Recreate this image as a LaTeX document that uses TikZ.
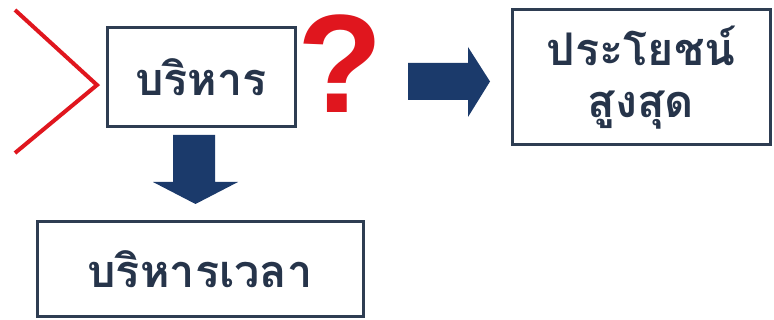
\documentclass[tikz,border=0pt]{standalone}
\usepackage{fontspec}
\newfontfamily\thaifont[Script=Thai]{Loma}
\setmainfont{Liberation Sans}
\definecolor{boxline}{HTML}{2E3D52}
\definecolor{thaitext}{HTML}{26344A}
\definecolor{navy}{HTML}{1B3A6B}
\definecolor{qred}{HTML}{E0161E}
\begin{document}
\begin{tikzpicture}[x=1pt,y=-1pt,
  box/.style={draw=boxline, line width=3pt, fill=white, inner sep=0pt, text=thaitext,
    font=\thaifont\bfseries\fontsize{45}{52}\selectfont, align=center},
  blockarrow/.style={fill=navy, draw=none}]
\useasboundingbox (0,0) rectangle (774,320);
\fill[white] (0,0) rectangle (774,320);
% boxes
\node[box, minimum width=188pt, minimum height=99pt] (manage) at (201,77.5) {บริหาร};
\node[box, minimum width=258pt, minimum height=135pt] (benefit) at (641,77.5) {ประโยชน์\\สูงสุด};
\node[box, minimum width=326pt, minimum height=95pt] (time) at (200,269.5) {บริหารเวลา};
% red chevron
\coordinate (chevtop) at (15,10);
\coordinate (chevbot) at (15,153);
\draw[qred, line width=4pt, line join=miter] (chevtop) -- (97,85) -- (chevbot);
% question mark
\node[text=qred, font=\bfseries\fontsize{140}{140}\selectfont, inner sep=0pt] (q) at (340,64) {?};
% right block arrow
\fill[blockarrow] (408,63) -- (468,63) -- (468,47) -- (490,81.5) -- (468,117) -- (468,100) -- (408,100) -- cycle;
% down block arrow
\fill[blockarrow] (173,135) -- (215,135) -- (215,182) -- (238,182) -- (195.5,204) -- (153,182) -- (173,182) -- cycle;
\end{tikzpicture}
\end{document}
